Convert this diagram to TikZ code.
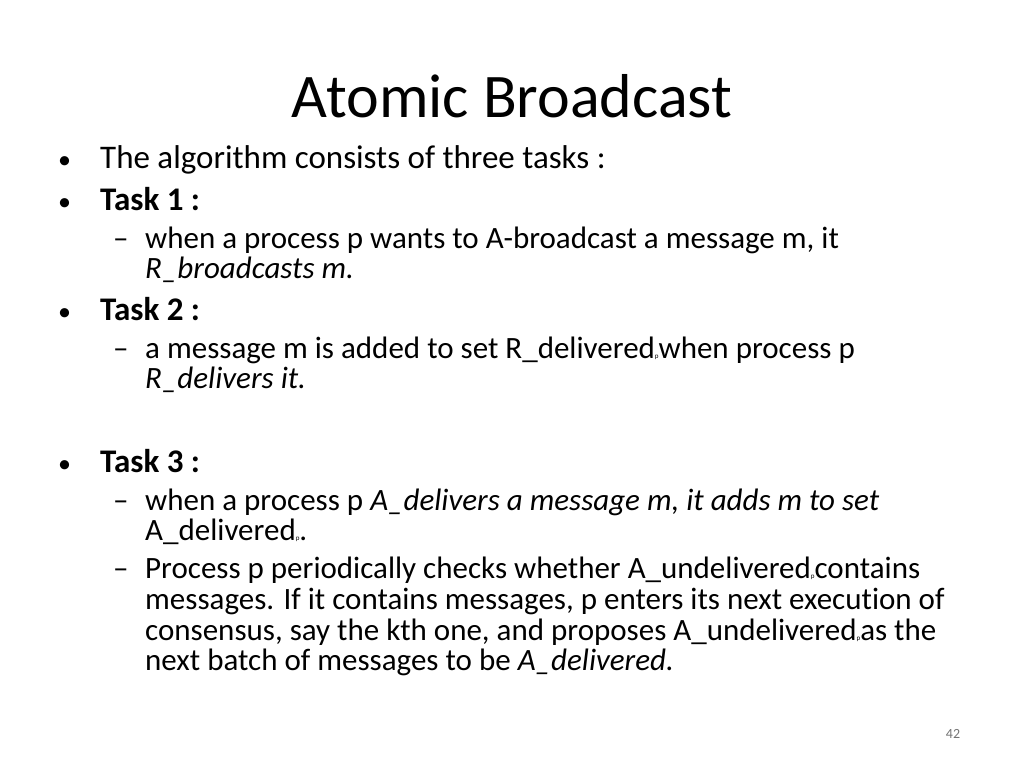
\documentclass[tikz,border=0pt]{standalone}
\usepackage{fontspec}
\setmainfont{Carlito}[Ligatures=NoCommon]
\begin{document}
\begin{tikzpicture}[x=1pt,y=-1pt,
  every node/.style={inner sep=0pt,anchor=base west},
  big/.style={font=\fontsize{33}{36}\selectfont},
  small/.style={font=\fontsize{31}{33}\selectfont}]
\useasboundingbox (0,0) rectangle (1024,768);
\node[anchor=base,font=\fontsize{62}{66}\selectfont] (title) at (512,117) {Atomic Broadcast};
\node[big] (b1) at (58,168) {\fontsize{26}{28}\selectfont •};
\node[big] (l1) at (100,168) {The algorithm consists of three tasks :};
\node[big] (b2) at (58,210) {\fontsize{26}{28}\selectfont •};
\node[big] (t1) at (100,210) {\textbf{Task 1 :}};
\node[small] (d1) at (113,248) {–};
\node[small] (s1) at (145,248) {when a process p wants to A-broadcast a message m, it};
\node[small] (s1b) at (145,278) {\textit{R\_broadcasts m.}};
\node[big] (b3) at (58,320) {\fontsize{26}{28}\selectfont •};
\node[big] (t2) at (100,320) {\textbf{Task 2 :}};
\node[small] (d2) at (113,358) {–};
\node[small] (s2) at (145,358) {a message m is added to set R\_delivered{\fontsize{7}{8}\selectfont p}when process p};
\node[small] (s2b) at (145,388) {\textit{R\_delivers it.}};
\node[big] (b4) at (58,472) {\fontsize{26}{28}\selectfont •};
\node[big] (t3) at (100,472) {\textbf{Task 3 :}};
\node[small] (d3) at (113,510) {–};
\node[small] (s3) at (145,510) {when a process p \textit{A\_delivers a message m, it adds m to set}};
\node[small] (s3b) at (145,540) {A\_delivered{\fontsize{7}{8}\selectfont p}.};
\node[small] (d4) at (113,578) {–};
\node[small] (s4) at (145,578) {Process p periodically checks whether A\_undelivered{\fontsize{7}{8}\selectfont p}contains};
\node[small] (s4b) at (145,609) {messages. If it contains messages, p enters its next execution of};
\node[small] (s4c) at (145,640) {consensus, say the kth one, and proposes A\_undelivered{\fontsize{7}{8}\selectfont p}as the};
\node[small] (s4d) at (145,670) {next batch of messages to be \textit{A\_delivered.}};
\node[anchor=base,font=\fontsize{14}{15}\selectfont,text=black!55] (pg) at (953,738) {42};
\end{tikzpicture}
\end{document}
